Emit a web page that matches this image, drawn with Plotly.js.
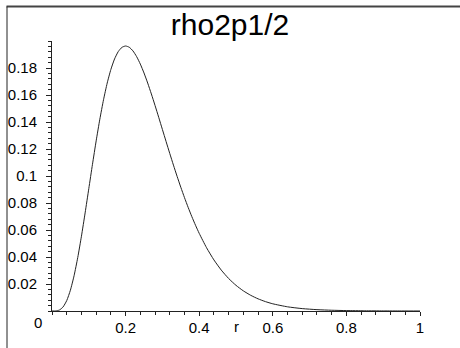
<!DOCTYPE html>
<html>
<head>
<meta charset="utf-8">
<script src="https://cdn.plot.ly/plotly-3.0.1.min.js"></script>
<style>html,body{margin:0;padding:0;background:#fff;}#chart{width:460px;height:348px;}</style>
</head>
<body>
<div id="chart"></div>
<script>
// r values and rho2p1/2 values
var rValues = [0, 0.01, 0.02, 0.03, 0.04, 0.05, 0.06, 0.07, 0.08, 0.09,
  0.10, 0.11, 0.12, 0.13, 0.14, 0.15, 0.16, 0.17, 0.18, 0.19,
  0.20, 0.21, 0.22, 0.23, 0.24, 0.25, 0.26, 0.27, 0.28, 0.29,
  0.30, 0.31, 0.32, 0.33, 0.34, 0.35, 0.36, 0.37, 0.38, 0.39,
  0.40, 0.42, 0.44, 0.46, 0.48, 0.50, 0.52, 0.54, 0.56, 0.58,
  0.60, 0.64, 0.68, 0.72, 0.76, 0.80, 0.85, 0.90, 0.95, 1.00];
var rhoValues = [0, 0.00006, 0.00072, 0.00298, 0.00771, 0.01540, 0.02615, 0.03966, 0.05539, 0.07265,
  0.09065, 0.10867, 0.12601, 0.14210, 0.15648, 0.16883, 0.17894, 0.18671, 0.19214, 0.19529,
  0.19630, 0.19535, 0.19265, 0.18842, 0.18290, 0.17631, 0.16886, 0.16078, 0.15225, 0.14344,
  0.13449, 0.12555, 0.11671, 0.10807, 0.09970, 0.09166, 0.08400, 0.07674, 0.06990, 0.06350,
  0.05753, 0.04687, 0.03784, 0.03030, 0.02408, 0.01901, 0.01491, 0.01162, 0.00901, 0.00695,
  0.00533, 0.00310, 0.00178, 0.00100, 0.00056, 0.00031, 0.00015, 0.00007, 0.00003, 0.00001];
var xTickVals = [0.2, 0.4, 0.6, 0.8, 1];
var xTickText = ["0.2", "0.4", "0.6", "0.8", "1"];
var yTickVals = [0.02, 0.04, 0.06, 0.08, 0.1, 0.12, 0.14, 0.16, 0.18];
var yTickText = ["0.02", "0.04", "0.06", "0.08", "0.1", "0.12", "0.14", "0.16", "0.18"];
var titleText = "rho2p1/2";
var xLabel = "r";
var originLabel = "0";

var W = 460, H = 348;
var mL = 52, mR = 40, mT = 41, mB = 37;
var pw = W - mL - mR, ph = H - mT - mB;
function px(x){ return (x - mL) / pw; }
function py(y){ return (H - mB - y) / ph; }

var FONT = "Liberation Sans, Arial, sans-serif";

var trace = {
  x: rValues, y: rhoValues, type: 'scatter', mode: 'lines',
  line: {color: '#222', width: 1, shape: 'spline', smoothing: 0.6},
  hoverinfo: 'none', showlegend: false
};

var layout = {
  width: W, height: H,
  margin: {l: mL, r: mR, t: mT, b: mB, pad: 0},
  paper_bgcolor: '#fff', plot_bgcolor: '#fff',
  font: {family: FONT, color: '#000', size: 15},
  title: {text: titleText, font: {family: FONT, size: 30, color: '#000'},
    x: 0.5, xref: 'container', xanchor: 'center',
    y: 1 - 24 / H, yref: 'container', yanchor: 'middle'},
  xaxis: {
    range: [0, 1], showgrid: false, zeroline: false,
    showline: true, linecolor: '#222', linewidth: 1,
    ticks: 'outside', ticklen: 4, tickcolor: '#222', tickwidth: 1,
    tickmode: 'array', tickvals: xTickVals, ticktext: xTickText,
    tickfont: {family: FONT, size: 15, color: '#000'},
    ticklabelstandoff: -1,
    minor: {dtick: 0.04, tick0: 0, ticks: 'outside', ticklen: 3, tickcolor: '#222', tickwidth: 1, showgrid: false},
    fixedrange: true
  },
  yaxis: {
    range: [0, 0.2], showgrid: false, zeroline: false,
    showline: true, linecolor: '#222', linewidth: 1,
    ticks: 'outside', ticklen: 5, tickcolor: '#222', tickwidth: 1,
    tickmode: 'array', tickvals: yTickVals, ticktext: yTickText,
    tickfont: {family: FONT, size: 15, color: '#000'},
    ticklabelstandoff: 6,
    minor: {dtick: 0.004, tick0: 0, ticks: 'outside', ticklen: 3, tickcolor: '#222', tickwidth: 1, showgrid: false},
    fixedrange: true
  },
  annotations: [
    {text: originLabel, xref: 'paper', yref: 'paper', x: px(38), y: py(322),
     xanchor: 'center', yanchor: 'middle', showarrow: false,
     font: {family: FONT, size: 15, color: '#000'}},
    {text: xLabel, xref: 'x', yref: 'paper', x: 0.5, y: py(326),
     xanchor: 'center', yanchor: 'middle', showarrow: false,
     font: {family: FONT, size: 15, color: '#000'}}
  ],
  shapes: [
    {type: 'line', xref: 'paper', yref: 'paper', x0: px(6.5), x1: px(460), y0: py(6.5), y1: py(6.5),
     line: {color: '#444', width: 2}},
    {type: 'line', xref: 'paper', yref: 'paper', x0: px(7), x1: px(7), y0: py(6.5), y1: py(348),
     line: {color: '#222', width: 1}}
  ]
};

Plotly.newPlot('chart', [trace], layout, {staticPlot: true, displayModeBar: false});
</script>
</body>
</html>
